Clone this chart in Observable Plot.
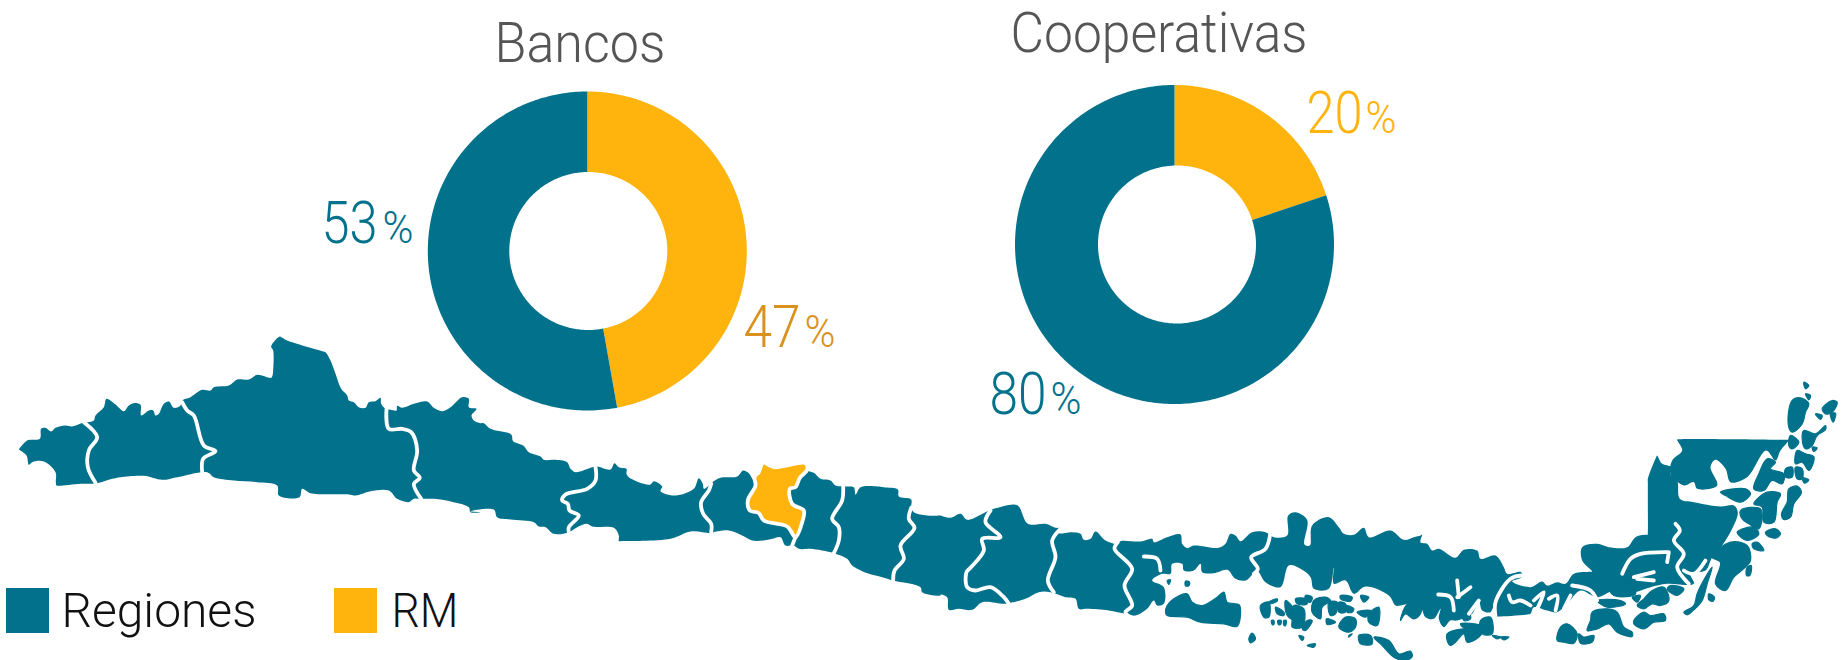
<!DOCTYPE html>
<html><head><meta charset="utf-8">
<style>html,body{margin:0;padding:0;background:#fff}svg{display:block}</style>
<script src="https://cdn.jsdelivr.net/npm/d3@7"></script>
<script src="https://cdn.jsdelivr.net/npm/@observablehq/plot@0.6"></script>
</head><body><div id="chart"></div>
<script>
const TEAL="#02718B", GOLD="#FFB30D";
// donut values
const categories=["RM","Regiones"];
const bancos=[47,53];
const cooperativas=[20,80];
const titles=["Bancos","Cooperativas"];
const legendNames=["Regiones","RM"];

// Map outlines, in tiles: [tile origin x, y] + points in 1/3 px
const T1=[0,320],T2=[470,420],T3=[940,480],T4=[1400,370];
const coastA=[T1,"55,387 80,360 118,355 122,325 135,322 152,333 165,322 195,315 215,318 248,307 262,305 280,300 285,285 310,260 318,235 345,252 370,272 385,255 400,248 420,253 422,285 445,270 458,270 465,285 475,280 490,250 505,243 520,262 540,255 545,240 570,230 605,208 630,210 640,200 685,195 710,177 745,177 770,163 812,172 816,165 818,150 818,90 812,78 838,48 845,52 860,60 965,92 975,95 990,120 1005,160 1022,205 1040,225 1045,240 1060,245 1075,260 1095,262 1105,245 1125,242 1140,232 1142,250 1155,265 1170,268 1188,270 1190,256 1205,262 1240,250 1280,243 1300,262 1325,272 1350,260 1385,230 1405,235 1405,260 1428,265 1413,285 1420,300 1440,308"];
const coastB=[T2,"40,8 60,25 122,42 128,62 158,75 175,95 210,108 220,118 250,118 290,125 300,145 315,155 365,140 380,138 420,147 432,128 445,140 468,145 468,160 475,170 520,190 540,192 550,182 575,198 570,212 615,225 670,205 685,173 697,190 700,205 715,195 722,188 750,172 800,168 818,150 835,158 850,178 865,155 878,127 910,140 1005,128 1012,150 1030,157 1050,175 1080,180 1095,195 1125,198 1150,200 1155,222 1170,200 1215,197 1240,200 1282,207 1285,228 1322,237 1322,262 1330,275 1370,285 1410,285"];
const coastC=[T3,"0,105 30,112 60,100 80,118 145,90 160,85 220,72 235,78 262,130 315,130 345,142 365,143 355,158 395,155 420,160 430,178 450,175 465,153 495,180 530,190 540,182 600,183 635,175 640,185 680,170 720,162 725,190 740,203 760,195 835,202 855,190 870,160 885,165 900,182 935,155 975,155 1000,170 1040,165 1043,105 1065,95 1100,118 1092,192 1108,195 1115,135 1165,110 1195,140 1210,160 1240,163 1270,142 1285,170 1350,150 1390,178 1420,170"];
const coastD=[T4,"60,495 65,492 60,515 80,520 95,540 115,535 165,562 190,538 230,540 240,565 285,555 310,590 320,610 362,605 363,620 335,632 390,650 425,633 440,645 470,635 495,640 520,610 570,604 575,603 545,570 545,530 590,520 625,530 680,530 705,500 735,493 741,493 742,485 742,400 742,335 742,325 767,260 770,255 773,260 785,280 812,290 810,310 830,330 838,385 880,395 960,408 1000,405 1012,425 995,475 965,525 935,560 915,600 870,610 880,640 800,640 750,650 700,665 640,660 590,680 540,660 500,700 470,725 440,720 400,710 390,730 380,732 295,738 290,738 283,700 270,725 245,720 235,690 215,730 170,750 150,750 130,770 115,745 120,715 100,745 75,740 60,710 30,700"];
const coastE=[T3,"1380,375 1365,375 1345,345 1275,318 1240,340 1215,300 1180,310 1180,262 1165,325 1120,325 1110,290 1080,265 1045,255 1020,320 975,305 950,272 915,300 885,295 860,268 820,278 785,275 780,250 760,270 730,270 725,250 695,250 690,280 665,280 635,300 670,320 670,370 650,375 640,360 620,385 585,405 555,400 505,390 440,385 415,385 405,355 375,350 330,335 295,335 255,355 205,368 190,370 125,365 95,388 55,385 25,388 20,350 0,342"];
const coastF=[T2,"1410,525 1355,515 1350,500 1268,480 1235,470 1195,460 1145,435 1130,415 1090,398 1020,385 985,385 970,375 945,375 930,350 905,355 880,360 845,360 815,345 775,330 730,335 720,338 660,333 600,355 450,362 445,362 445,345 430,322 365,318 350,310 320,320 295,335 250,340 225,320 205,318 190,305 120,297 80,290 70,267 0,272"];
const coastG=[T1,"1440,575 1410,575 1405,560 1360,545 1300,535 1262,535 1240,535 1225,545 1190,535 1165,510 1110,512 1065,525 1045,522 930,518 905,505 897,530 835,525 830,495 770,485 700,480 640,470 620,455 530,470 485,478 430,466 360,470 335,475 290,488 240,490 175,496 168,495 166,485 165,455 130,423 95,425 85,433 78,405 55,387"];
const mainland=[coastA,coastB,coastC,coastD,coastE,coastF,coastG];
const upperBlock=[T4,"830,207 836,206 1000,206 1158,208 1165,208 1140,240 1125,270 1097,240 1040,320 990,335 975,295 945,268 930,290 950,345 890,355 880,335 850,345 810,310 815,270 845,240 832,212"];
const metropolitana=[T2,"878,127 910,140 1005,128 1010,148 988,172 975,200 958,205 965,250 1000,270 995,305 975,350 950,318 880,300 865,278 838,270 832,240 855,195 852,170 865,155"];
const islandsEast=[T4,[
"1175,90 1200,82 1225,100 1215,125 1205,160 1175,185 1163,160","1210,35 1225,45 1215,55","1215,70 1230,75 1225,88","1265,115 1295,90 1310,95 1295,125 1275,130","1245,130 1265,135 1260,147","1290,130 1305,128 1298,155","1210,180 1245,190 1275,165 1275,178 1250,195 1235,225 1215,235 1205,205","1170,195 1195,215 1175,235 1165,225","1235,230 1250,232 1240,243","1190,240 1215,250 1240,258 1240,272 1225,300 1205,275 1185,280","1185,290 1205,295 1205,325 1190,325","1155,295 1175,290 1175,320 1155,320","1205,322 1225,328 1212,338","1165,355 1190,347 1203,365 1180,400 1170,440 1150,447 1143,430 1160,395","1075,310 1100,265 1125,275 1110,295 1150,310 1145,340 1115,330 1090,360 1060,355","1100,365 1140,370 1130,395 1120,455 1090,455 1085,410 1060,400","1020,420 1080,415 1075,475 1045,460 1025,445","1010,485 1060,470 1075,490 1040,510","1095,485 1125,475 1140,490 1125,503 1100,495","1055,520 1070,515 1090,540 1060,535","990,515 1040,525 1050,570 1035,590 1000,620 975,660 945,640 960,575 935,560","1040,590 1052,585 1048,615 1038,615","925,670 942,680 938,692 925,688","850,725 880,705 890,670 915,620 935,590 920,640 905,690 880,718 860,733","810,645 850,655 830,675 800,655","755,660 790,650 805,690 780,705 755,700 730,715 710,705 730,685","700,750 730,725 750,735 790,730 795,750 760,755 730,775 700,760","625,650 690,640 705,670 640,675","590,690 660,690 675,700 620,710","695,680 720,675 710,695","575,725 620,715 650,725 670,770 695,785 695,798 650,785 625,760 590,775 560,780 570,750","480,770 500,760 530,790 520,818 490,815 470,810","535,790 550,800 580,795 575,815 540,818","140,790 190,775 245,780 235,800 200,815 190,790 165,815 150,825 140,810","240,750 270,740 275,790 245,790","180,760 240,765 240,775 190,772","185,725 205,725 210,745 190,750","275,795 300,800 290,805","300,800 325,800 310,808","960,365 1035,355 1050,370 1020,395 975,375"]];
const islandsWest=[T3,[
"680,375 700,355 740,340 755,365 785,375 830,350 850,335 860,365 895,372 900,385 890,437 850,430 780,425 740,410 680,405 675,395","680,300 690,298 685,312","735,302 747,305 745,316 735,316","960,375 985,365 985,410 970,410","985,365 1010,355 1010,362 985,370","1005,380 1030,395 1030,405 1010,400","1035,360 1060,385 1065,420 1040,405","1065,355 1095,355 1100,370 1070,370","1095,345 1115,350 1110,365 1095,360","1060,375 1090,385 1085,440 1055,440 1055,420","1100,420 1115,420 1095,450 1085,445","1120,360 1155,350 1170,360 1145,380 1140,415 1115,395","1165,365 1190,365 1185,400 1170,405","1195,365 1215,370 1215,395 1195,395","1215,375 1240,385 1235,395 1220,395","1200,345 1235,350 1230,362 1200,355","1260,345 1285,350 1270,365","1158,415 1185,425 1160,432","1215,410 1245,415 1245,440 1225,455 1195,440","1250,395 1290,390 1275,410","1285,400 1315,380 1310,435 1285,425","1255,465 1290,465 1295,490 1260,490","1225,465 1235,460 1225,470","1075,465 1090,470 1085,480","1100,495 1125,490 1120,500","935,458 945,475 930,487 925,475","993,420 1000,420 1000,432 995,432","1012,420 1022,420 1020,432 1014,432","1030,420 1037,420 1035,436 1030,434","1300,470 1345,480 1375,520 1410,512 1415,528 1395,540 1360,530 1325,495","1380,420 1395,400 1420,415 1440,400 1440,370 1400,372"]];
// white regional borders and channels
const borders=[
[T1,"250,305 290,350 265,390 262,440 285,487"],[T1,"545,245 560,270 580,285 610,375 645,392 608,415 605,455"],[T1,"1158,265 1165,325 1205,325 1232,335 1250,390 1240,450 1258,472 1240,490 1262,535"],
[T2,"375,140 375,180 350,205 285,222 275,240 292,250 297,270 325,285 295,320 295,335"],[T2,"722,190 715,210 692,245 698,280 722,310 722,335"],[T2,"975,350 965,375"],[T2,"1118,198 1115,240 1085,295 1105,320 1105,360 1090,398"],[T2,"1322,262 1315,295 1332,322 1290,375 1300,415 1272,450 1268,480"],
[T3,"150,90 135,125 180,170 125,175 130,210 90,262 78,275 80,320 105,330 150,320 190,350 205,370"],[T3,"360,145 335,180 345,230 322,300 340,335"],[T3,"532,185 522,205 575,265 552,315 575,375 555,395 570,410"],[T3,"990,155 975,205 932,230 952,265 940,280"],[T3,"610,228 650,235 660,270"],
[T4,"362,615 330,625 285,695 285,738"],[T4,"113,672 150,680 160,720"],[T4,"170,630 175,680"],[T4,"210,650 170,680"],[T4,"235,690 205,730"],[T4,"325,675 335,695 360,690 390,705"],[T4,"400,690 430,665 410,715"],[T4,"445,685 470,675 465,720"],[T4,"490,715 510,675"],[T4,"515,645 570,660 590,690"],[T4,"530,700 545,680"],[T4,"665,610 690,565 720,550 800,545"],[T4,"700,620 760,605"],[T4,"710,625 760,630"],[T4,"805,545 800,575"],[T4,"825,460 838,480 820,510 850,550 830,590 865,640"],[T4,"915,570 880,610 850,600"]];

const parse=([o,s],id)=>s.trim().split(/\s+/).map(p=>{const [a,b]=p.split(",").map(Number);return {x:o[0]+a/3,y:o[1]+b/3,id};});
const mainRows=[...mainland.flatMap(seg=>parse(seg,"main")),...parse(upperBlock,"upper")];
const islandRows=[];
[islandsEast,islandsWest].forEach(([o,list],k)=>list.forEach((s,i)=>islandRows.push(...parse([o,s],"isl"+k+"-"+i))));
const borderRows=borders.flatMap((b,i)=>parse(b,"b"+i));
const rmRows=parse(metropolitana,"rm");

// donut wedges from the values, built through d3.pie; the seam at 12 o'clock stays vertical
const wedges=(values,cx,cy,R,r,dx,name)=>{
  const rows=[];
  d3.pie().sort(null)(values).forEach((a,i)=>{
    const n=Math.max(4,Math.ceil((a.endAngle-a.startAngle)*60)),id=name+i;
    for(let k=0;k<=n;k++){const t=a.startAngle+(a.endAngle-a.startAngle)*k/n;rows.push({x:cx+R*Math.sin(t),y:cy-R*Math.cos(t),id,cat:categories[i]});}
    for(let k=n;k>=0;k--){const t=a.startAngle+(a.endAngle-a.startAngle)*k/n;
      const top=Math.abs(Math.sin(t))<1e-6&&Math.cos(t)>0;
      rows.push({x:cx+(top?0:dx)+r*Math.sin(t),y:cy-r*Math.cos(t),id,cat:categories[i]});}
  });
  return rows;
};
const donutRows=[...wedges(bancos,586.8,250.5,159.5,79,1,"b"),...wedges(cooperativas,1174,244,159.5,79,2.5,"c")];

const FONT="Roboto";
// tag each label with the width it has in the picture; it is fitted once the chart is in the page
const fit=(w)=>function(i,s,v,d,c,next){const g=next(i,s,v,d,c);g.querySelectorAll("text").forEach(t=>t.dataset.fit=w);return g;};
const label=(t,x,y,size,color,w)=>Plot.text([t],{x:()=>x,y:()=>y,text:d=>d,fontSize:size,fill:color,fontFamily:FONT,fontWeight:300,textAnchor:"start",lineAnchor:"bottom",render:fit(w)});

const chart=Plot.plot({
  width:1841,height:660,margin:0,
  x:{domain:[0,1841],range:[0,1841],axis:null},
  y:{domain:[0,660],range:[0,660],axis:null},
  marks:[
    Plot.line(donutRows,{x:"x",y:"y",z:"id",fill:d=>d.cat==="RM"?GOLD:TEAL,stroke:null,curve:"linear"}),
    Plot.line(mainRows,{x:"x",y:"y",z:"id",fill:TEAL,stroke:null,curve:"catmull-rom-closed"}),
    Plot.line(islandRows,{x:"x",y:"y",z:"id",fill:TEAL,stroke:TEAL,strokeWidth:1.2,curve:"catmull-rom-closed"}),
    Plot.line(borderRows,{x:"x",y:"y",z:"id",stroke:"#fff",strokeWidth:3.8,strokeLinejoin:"round",curve:"catmull-rom"}),
    Plot.line(rmRows,{x:"x",y:"y",z:"id",fill:GOLD,stroke:"#fff",strokeWidth:3.8,curve:"catmull-rom-closed"}),
    label(titles[0],494,61,56,"#555",171),
    label(titles[1],1010,51,56,"#555",297),
    label(bancos[1]+"",321,242,60,TEAL,56),label("%",382,242,44,TEAL,31),
    label(bancos[0]+"",743,346,60,"#D9921E",57),label("%",804,346,44,"#D9921E",31),
    label(cooperativas[0]+"",1306,132,60,GOLD,56),label("%",1365,132,44,GOLD,31),
    label(cooperativas[1]+"",989,413,60,TEAL,57),label("%",1050,413,44,TEAL,31),
    Plot.rect(legendNames,{x1:(d,i)=>[6,334][i],x2:(d,i)=>[49,377][i],y1:588,y2:633,fill:d=>d==="RM"?GOLD:TEAL}),
    label(legendNames[0],61,626,49,"#111",195),
    label(legendNames[1],391,626,49,"#111",67)
  ]
});
document.getElementById("chart").append(chart);
chart.querySelectorAll("text[data-fit]").forEach(t=>{
  const natural=t.getComputedTextLength();
  if(natural>0) t.setAttribute("transform",(t.getAttribute("transform")||"")+` scale(${+t.dataset.fit/natural},1)`);
});
</script></body></html>
